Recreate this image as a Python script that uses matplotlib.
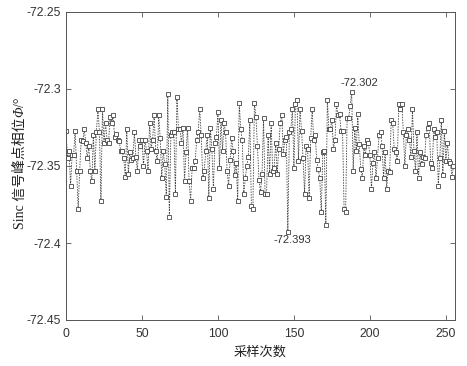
import matplotlib
matplotlib.use("Agg")
import matplotlib.pyplot as plt
import numpy as np

# thousandths below -72.3  (value = -72.3 - v/1000)
seg1 = [27, 45, 40, 63, 43, 43, 27, 53, 78, 53, 33, 34, 26, 35, 45, 37, 53, 60, 30, 53, 28, 13, 28, 73, 13, 35, 22, 33, 35, 18, 22, 17]
seg2 = [31, 29, 33, 34, 40, 40, 45, 57, 26, 55, 41, 46, 45, 28, 44, 53, 33, 37, 33, 50, 33, 40, 53, 22, 39, 33, 17, 40, 47, 17, 32, 58, 40]
seg3 = [49, 70, 3, 83, 30, 28, 28, 68, 5, 26, 26, 35, 25, 60, 41, 25, 60, 73, 51, 51, 47, 33, 28, 13, 30, 58, 53, 40, 30, 71, 25, 39, 65]
seg4 = [35, 31, 15, 51, 20, 40, 22, 28, 53, 63, 46, 32, 40, 56, 48, 73, 9, 26, 33, 68, 58, 50, 44, 20, 76, 78, 9, 18, 37, 59, 67, 55, 19]
seg5 = [68, 68, 30, 55, 22, 53, 51, 35, 55, 39, 22, 17, 42, 33, 31, 93, 28, 26, 13, 51, 10, 7, 47, 13, 27, 45, 68, 37, 39, 71, 32, 13]
seg6 = [33, 30, 46, 52, 58, 80, 41, 40, 88, 7, 26, 26, 20, 39, 33, 10, 17, 16, 27, 27, 78, 80, 19, 19, 11, 2, 53, 25, 40, 16, 36, 52]
seg7 = [58, 37, 43, 33, 35, 43, 65, 48, 41, 58, 45, 30, 28, 37, 58, 41, 65, 53, 54, 20, 22, 39, 41, 47, 10, 13, 10, 28, 50, 30]
seg8 = [26, 33, 44, 13, 40, 53, 28, 58, 41, 49, 44, 45, 30, 25, 22, 48, 51, 26, 31, 28, 63, 45, 20, 56, 27, 47, 35, 47, 48, 57, 50]

offsets = seg1 + seg2 + seg3 + seg4 + seg5 + seg6 + seg7 + seg8
phase = [-72.3 - v / 1000.0 for v in offsets]
samples = list(range(len(phase)))

xticks = [0, 50, 100, 150, 200, 250]
yticks = [-72.45, -72.4, -72.35, -72.3, -72.25]
ytick_labels = ["-72.45", "-72.4", "-72.35", "-72.3", "-72.25"]

ann_max = ("-72.302", 193, -72.2995)
ann_min = ("-72.393", 149, -72.3945)

fig = plt.figure(figsize=(4.67, 3.66), dpi=100)
ax = fig.add_axes([66 / 467, 1 - 320 / 366, (455 - 66) / 467, (320 - 12) / 366])

ax.plot(samples, phase, linestyle=(0, (1.8, 1.4)), color="#444444", linewidth=0.6,
        marker="s", markersize=2.6, markerfacecolor="white", markeredgecolor="#444444",
        markeredgewidth=0.6)

ax.set_xlim(0, 256)
ax.set_ylim(-72.45, -72.25)
ax.set_xticks(xticks)
ax.set_yticks(yticks)
ax.set_yticklabels(ytick_labels)

axcol = "#555555"
for s in ax.spines.values():
    s.set_color(axcol)
    s.set_linewidth(0.7)
ax.tick_params(direction="in", length=3.5, width=0.6, color=axcol,
               top=True, right=True, labelsize=8.7, labelcolor="#333333", pad=3.5)
ax.tick_params(axis="x", pad=6)
for lab in ax.get_xticklabels() + ax.get_yticklabels():
    lab.set_family(["Liberation Sans", "DejaVu Sans"])

ax.text(ann_max[1], ann_max[2], ann_max[0], ha="center", va="bottom", fontsize=8,
        color="#333333", family=["Liberation Sans", "DejaVu Sans"])
ax.text(ann_min[1], ann_min[2], ann_min[0], ha="center", va="top", fontsize=8,
        color="#333333", family=["Liberation Sans", "DejaVu Sans"])

ax.set_xlabel("采样次数", fontsize=9.5, family=["Noto Sans CJK SC", "DejaVu Sans"],
              color="#222222", labelpad=4)

# y label built from pieces (mixed fonts, italic symbol)
fam = ["Liberation Serif", "Noto Sans CJK SC", "DejaVu Sans"]
xl = 20 / 467
pieces = [("Sinc 信号峰点相位", "normal"), ("Φ", "italic"), ("/°", "normal")]
fig.canvas.draw()
renderer = fig.canvas.get_renderer()
texts = []
total = 0
for s, st in pieces:
    t = fig.text(xl, 0, s, rotation=90, ha="center", va="bottom", fontsize=10,
                 family=fam, style=st, color="#222222")
    bb = t.get_window_extent(renderer)
    texts.append((t, bb.height))
    total += bb.height
fig_h = fig.bbox.height
y0 = (1 - 163 / 366) * fig_h - total / 2
for t, h in texts:
    t.set_y(y0 / fig_h)
    y0 += h

fig.savefig("out.png", dpi=100)
